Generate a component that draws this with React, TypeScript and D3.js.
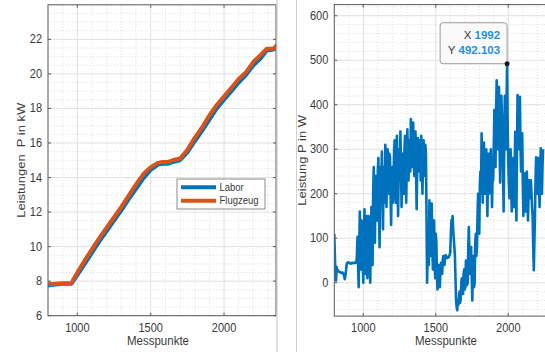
import React from 'react';
import * as d3 from 'd3';

// ---------- data ----------
const LEFT_X = [800, 850, 900, 960, 1000, 1050, 1100, 1150, 1200, 1250, 1300, 1350, 1400, 1450, 1500, 1550, 1580, 1620, 1650, 1700, 1750, 1800, 1850, 1900, 1950, 2000, 2050, 2100, 2150, 2200, 2250, 2290, 2330, 2345, 2360];
const LABOR = [7.75, 7.8, 7.85, 7.85, 8.35, 9.0, 9.65, 10.3, 10.9, 11.5, 12.1, 12.75, 13.35, 13.95, 14.45, 14.75, 14.8, 14.8, 14.9, 15.0, 15.45, 16.1, 16.7, 17.35, 18.0, 18.5, 19.0, 19.5, 19.95, 20.5, 20.9, 21.35, 21.4, 21.45, 21.5];
const FLUGZEUG = [7.82, 7.85, 7.88, 7.9, 8.5, 9.2, 9.85, 10.5, 11.1, 11.7, 12.3, 12.95, 13.6, 14.2, 14.6, 14.85, 14.9, 14.9, 15.0, 15.1, 15.6, 16.3, 16.9, 17.6, 18.2, 18.7, 19.2, 19.7, 20.1, 20.7, 21.1, 21.45, 21.45, 21.5, 21.7];
const LEFT_Y_TICKS = [6, 8, 10, 12, 14, 16, 18, 20, 22];
const X_TICKS = [1000, 1500, 2000];
const SERIES_NAMES = ['Labor', 'Flugzeug'];

// right chart: Messpunkte 800, 804, 808, ... (step 4)
const RIGHT_X0 = 800;
const RIGHT_STEP = 4;
const RIGHT_Y = [
  // 800 - 960
  110, 60, 20, 5, 35, 30, 28, 26, 25, 24, 24, 23, 22, 22, 23, 21, 20, 15, 8, 15,
  25, 38, 44, 45, 46, 45, 45, 44, 43, 43, 44, 45, 45, 44, 44, 45, 46, 45, 45, 60, 103,
  // 964 - 1080
  40, -10, 80, 160, 60, 30, 140, 120, 50, 0,
  100, 165, 70, 20, 120, 150, 10, 60, 150, 140,
  50, 0, 110, 170, 80, 40, 200, 260, 150, 90,
  // 1084 - 1440
  200, 240, 180, 140, 250, 280, 190, 80, 200, 260,
  210, 295, 200, 120, 260, 230, 180, 310, 240, 170,
  260, 300, 220, 200, 290, 280, 200, 130, 240, 260,
  180, 210, 290, 320, 230, 180, 280, 330, 240, 150,
  250, 300, 230, 340, 260, 170, 250, 290, 230, 200,
  300, 330, 250, 180, 270, 345, 260, 230, 320, 300,
  250, 368, 290, 260, 330, 360, 280, 240, 310, 340,
  250, 165, 260, 325, 270, 250, 320, 300, 230, 330,
  270, 200, 280, 320, 250, 240, 310, 290, 150, 0,
  // 1444 - 1800
  60, 120, 40, 185, 100, 60, 150, 178, 80, 30,
  120, 140, 50, 10, 110, 90, 20, -15, 30, 40,
  -5, -10, 30, 45, 25, 20, 50, 60, 45, 40,
  58, 62, 55, 55, 58, 58, 57, 60, 62, 70,
  110, 140, 130, 150, 120, 100, 80, 60, 10, -40,
  -55, -62, -40, -50, -30, -20, -45, -35, 0, 10,
  -20, -25, 20, 30, -15, -10, 50, 40, -5, 0,
  80, 125, 60, 20, 70, 80, 10, -40, 30, 60,
  -10, 0, 90, 110, 60, 80, 150, 200, 130, 110,
  // 1804 - 1992
  220, 250, 200, 336, 240, 180, 280, 315, 230, 200,
  270, 300, 220, 150, 240, 290, 200, 220, 280, 300,
  230, 170, 250, 230, 300, 388, 300, 260, 380, 455,
  350, 300, 400, 440, 300, 225, 330, 420, 380, 350,
  250, 160, 300, 420, 380, 300, 400, 492.103,
  // 1996 - 2240
  350, 268, 220, 190, 260, 300, 220, 160, 230, 280,
  220, 170, 260, 339, 250, 140, 300, 422, 350, 300,
  380, 418, 320, 250, 300, 336, 230, 150, 200, 246,
  200, 160, 210, 250, 190, 140, 200, 230, 210, 190,
  230, 200, 170, 150, 80, 28, 90, 150, 230, 282,
  240, 200, 250, 280, 220, 170, 240, 302, 250, 200,
  260, 300
];
const RIGHT_Y_TICKS = [0, 100, 200, 300, 400, 500, 600];
const TIP_X = 1992;
const TIP_Y = 492.103;

// ---------- style ----------
const FONT = '"Liberation Sans", Arial, sans-serif';
const BLUE = '#0072BD';
const ORANGE = '#D95319';
const AXIS = '#5a5a5a';
const TXT = '#3a3a3a';

type AxProps = {
  x: d3.ScaleLinear<number, number>;
  y: d3.ScaleLinear<number, number>;
  xTicks: number[];
  yTicks: number[];
  xMinor: number[];
  yMinor: number[];
  xLabel: string;
  yLabel: string;
  xLabelX: number;
  yLabelX: number;
  children?: React.ReactNode;
  id: string;
};

function HText(props: { x: number; y: number; anchor: string; size: number; children: React.ReactNode; fill?: string; weight?: string }) {
  return (
    <text
      transform={`translate(${props.x},${props.y}) scale(1,1.1)`}
      textAnchor={props.anchor}
      fontSize={props.size}
      fontFamily={FONT}
      fill={props.fill || TXT}
      fontWeight={props.weight || 'normal'}
    >
      {props.children}
    </text>
  );
}

function Axes(p: AxProps) {
  const [x0, x1] = p.x.range();
  const [y0, y1] = p.y.range(); // y0 bottom, y1 top
  const tl = 3;
  return (
    <g>
      <defs>
        <clipPath id={p.id}>
          <rect x={x0} y={y1} width={x1 - x0} height={y0 - y1} />
        </clipPath>
      </defs>
      {p.xMinor.map((v) => (
        <line key={'xm' + v} x1={p.x(v)} x2={p.x(v)} y1={y0} y2={y1} stroke="#d6d6d6" strokeWidth={0.8} strokeDasharray="1,2" />
      ))}
      {p.yMinor.map((v) => (
        <line key={'ym' + v} x1={x0} x2={x1} y1={p.y(v)} y2={p.y(v)} stroke="#d6d6d6" strokeWidth={0.8} strokeDasharray="1,2" />
      ))}
      {p.xTicks.map((v) => (
        <line key={'xg' + v} x1={p.x(v)} x2={p.x(v)} y1={y0} y2={y1} stroke="#e0e0e0" strokeWidth={1} />
      ))}
      {p.yTicks.map((v) => (
        <line key={'yg' + v} x1={x0} x2={x1} y1={p.y(v)} y2={p.y(v)} stroke="#e0e0e0" strokeWidth={1} />
      ))}
      <g clipPath={`url(#${p.id})`}>{p.children}</g>
      <rect x={x0} y={y1} width={x1 - x0} height={y0 - y1} fill="none" stroke={AXIS} strokeWidth={1} />
      {p.xTicks.map((v) => (
        <g key={'xt' + v}>
          <line x1={p.x(v)} x2={p.x(v)} y1={y0} y2={y0 - tl} stroke={AXIS} />
          <line x1={p.x(v)} x2={p.x(v)} y1={y1} y2={y1 + tl} stroke={AXIS} />
          <HText x={p.x(v)} y={y0 + 16} anchor="middle" size={11}>{v}</HText>
        </g>
      ))}
      {p.yTicks.map((v) => (
        <g key={'yt' + v}>
          <line x1={x0} x2={x0 + tl} y1={p.y(v)} y2={p.y(v)} stroke={AXIS} />
          <line x1={x1} x2={x1 - tl} y1={p.y(v)} y2={p.y(v)} stroke={AXIS} />
          <HText x={x0 - 6} y={p.y(v) + 4} anchor="end" size={11}>{v}</HText>
        </g>
      ))}
      <HText x={p.xLabelX} y={y0 + 29} anchor="middle" size={11.5}>{p.xLabel}</HText>
      <text
        transform={`translate(${p.yLabelX},${(y0 + y1) / 2}) rotate(-90) scale(1.18,1)`}
        textAnchor="middle"
        fontSize={11}
        fontFamily={FONT}
        fill={TXT}
        style={{ whiteSpace: 'pre' }}
      >
        {p.yLabel}
      </text>
    </g>
  );
}

export default function App() {
  const xL = d3.scaleLinear().domain([800, 2354]).range([48, 276]);
  const yL = d3.scaleLinear().domain([6, 24]).range([315.7, 4.8]);
  const leftLine = d3
    .line<number>()
    .x((_, i) => xL(LEFT_X[i]))
    .y((d) => yL(d));

  const xR = d3.scaleLinear().domain([800, 2354]).range([334.3, 559.6]);
  const yR = d3.scaleLinear().domain([-75, 625]).range([316.1, 4.6]);
  const rightLine = d3
    .line<number>()
    .x((_, i) => xR(RIGHT_X0 + i * RIGHT_STEP))
    .y((d) => yR(d));

  const xMinor = d3.range(800, 2400, 100).filter((v) => !X_TICKS.includes(v));
  const yMinorL = d3.range(6, 24.01, 0.5).filter((v) => !LEFT_Y_TICKS.includes(v));
  const yMinorR = d3.range(-60, 625, 20).filter((v) => !RIGHT_Y_TICKS.includes(v));

  const tipPx = xR(TIP_X);
  const tipPy = yR(TIP_Y);
  const boxW = 67;
  const boxH = 41;

  return (
    <svg width={545} height={352} style={{ position: 'absolute', left: 0, top: 0, background: '#fff' }}>
      <rect x={0} y={0} width={545} height={352} fill="#fff" />
      <Axes
        id="clipL"
        x={xL}
        y={yL}
        xTicks={X_TICKS}
        yTicks={LEFT_Y_TICKS}
        xMinor={xMinor}
        yMinor={yMinorL}
        xLabel="Messpunkte"
        yLabel={'Leistungen  P in kW'}
        xLabelX={158}
        yLabelX={24.5}
      >
        <path d={leftLine(LABOR) || ''} fill="none" stroke={BLUE} strokeWidth={4} strokeLinejoin="round" />
        <path d={leftLine(FLUGZEUG) || ''} fill="none" stroke={ORANGE} strokeWidth={4} strokeLinejoin="round" />
      </Axes>
      <g>
        <rect x={177} y={179} width={88} height={30} fill="#fff" stroke="#8a8a8a" strokeWidth={1} />
        <line x1={181} x2={216} y1={187.3} y2={187.3} stroke={BLUE} strokeWidth={4} />
        <line x1={181} x2={216} y1={200.7} y2={200.7} stroke={ORANGE} strokeWidth={4} />
        <HText x={219.5} y={190.5} anchor="start" size={9.5}>{SERIES_NAMES[0]}</HText>
        <HText x={219.5} y={204} anchor="start" size={9.5}>{SERIES_NAMES[1]}</HText>
      </g>

      <line x1={277} x2={277} y1={0} y2={352} stroke="#c4c4c4" strokeWidth={1} />
      <line x1={296.5} x2={296.5} y1={0} y2={352} stroke="#d0d0d0" strokeWidth={1} />

      <Axes
        id="clipR"
        x={xR}
        y={yR}
        xTicks={X_TICKS}
        yTicks={RIGHT_Y_TICKS}
        xMinor={xMinor}
        yMinor={yMinorR}
        xLabel="Messpunkte"
        yLabel="Leistung P in W"
        xLabelX={446}
        yLabelX={305.5}
      >
        <path d={rightLine(RIGHT_Y) || ''} fill="none" stroke={BLUE} strokeWidth={2.6} strokeLinejoin="round" />
      </Axes>

      <g>
        <rect x={tipPx - boxW} y={tipPy - boxH} width={boxW} height={boxH} rx={3} fill="#fafafa" stroke="#9a9a9a" strokeWidth={1} />
        <text x={tipPx - 7} y={tipPy - 25} textAnchor="end" fontSize={11.5} fontFamily={FONT} fill={TXT}>
          X <tspan fill="#1f8fe0" fontWeight="bold">{TIP_X}</tspan>
        </text>
        <text x={tipPx - 7} y={tipPy - 10} textAnchor="end" fontSize={11.5} fontFamily={FONT} fill={TXT}>
          Y <tspan fill="#1f8fe0" fontWeight="bold">{TIP_Y.toFixed(3)}</tspan>
        </text>
        <circle cx={tipPx} cy={tipPy} r={2.5} fill="#1a1a1a" />
      </g>
    </svg>
  );
}
